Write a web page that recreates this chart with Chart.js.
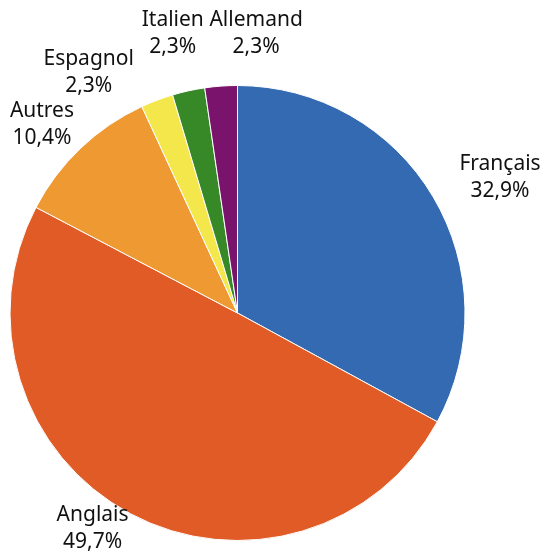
<!DOCTYPE html>
<html>
<head>
<meta charset="utf-8">
<script src="https://cdn.jsdelivr.net/npm/chart.js@4"></script>
<style>
  html, body { margin: 0; padding: 0; background: #fff; }
  #wrap { width: 546px; height: 557px; }
</style>
</head>
<body>
<div id="wrap"><canvas id="langChart" width="546" height="557"></canvas></div>
<script>
// Répartition des langues
const labels = ['Français', 'Anglais', 'Autres', 'Espagnol', 'Italien', 'Allemand'];
const values = [32.9, 49.7, 10.4, 2.3, 2.3, 2.3];
const colors = ['#346AB1', '#E05B26', '#EF9932', '#F3E74C', '#378826', '#7A136C'];

// petits décalages des étiquettes (style Excel)
const labelNudge = [[20, 9], [-12, -33], [-1, 16], [-49, 23], [-4, -4], [39, 2]];

const fmt = (v) => v.toFixed(1).replace('.', ',') + '%';

// Plugin : étiquettes hors du camembert
const outsideLabels = {
  id: 'outsideLabels',
  afterDatasetsDraw(chart) {
    const ctx = chart.ctx;
    const meta = chart.getDatasetMeta(0);
    ctx.save();
    ctx.font = '21px "Noto Sans", sans-serif';
    ctx.fillStyle = '#111111';
    ctx.textAlign = 'center';
    ctx.textBaseline = 'middle';
    meta.data.forEach((arc, i) => {
      const p = arc.getProps(['x', 'y', 'startAngle', 'endAngle', 'outerRadius'], true);
      const mid = (p.startAngle + p.endAngle) / 2;
      const d = p.outerRadius * 1.24;
      const x = p.x + Math.cos(mid) * d + labelNudge[i][0];
      const y = p.y + Math.sin(mid) * d + labelNudge[i][1];
      ctx.fillText(labels[i], x, y - 13.5);
      ctx.fillText(fmt(values[i]), x, y + 13.5);
    });
    ctx.restore();
  }
};

new Chart(document.getElementById('langChart'), {
  type: 'pie',
  data: {
    labels: labels,
    datasets: [{
      data: values,
      backgroundColor: colors,
      borderColor: '#ffffff',
      borderWidth: 1
    }]
  },
  options: {
    responsive: false,
    animation: false,
    layout: { padding: { left: 9.5, right: 80.5, top: 85, bottom: 16 } },
    plugins: {
      legend: { display: false },
      tooltip: { enabled: false }
    }
  },
  plugins: [outsideLabels]
});
</script>
</body>
</html>
